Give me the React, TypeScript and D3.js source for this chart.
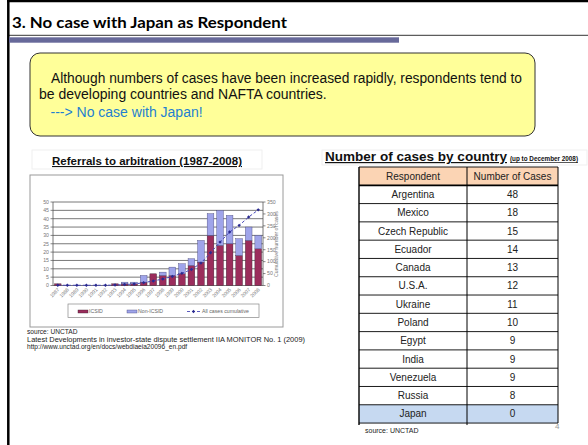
import React from "react";
import * as d3 from "d3";

const years = ["1987","1988","1989","1990","1991","1992","1993","1994","1995","1996","1997","1998","1999","2000","2001","2002","2003","2004","2005","2006","2007","2008"];
const icsid = [1,0,0,0,0,0,1,1,1,2,7,6,6,7,12,14,30,24,25,18,27,22];
const nonIcsid = [0,0,0,0,0,0,0,1,1,4,0,2,5,6,4,13,13,21,17,10,8,8];
const cumulative = [1,1,1,1,1,1,2,4,6,12,19,27,38,51,67,94,137,182,224,252,287,317];
const leftTicks = [0,5,10,15,20,25,30,35,40,45,50];
const rightTicks = [0,50,100,150,200,250,300,350];

const respondents = ["Argentina","Mexico","Czech Republic","Ecuador","Canada","U.S.A.","Ukraine","Poland","Egypt","India","Venezuela","Russia","Japan"];
const caseCounts = [48,18,15,14,13,12,11,10,9,9,9,8,0];

const SANS = "'Liberation Sans', Arial, sans-serif";

export default function App() {
  const x = d3.scaleBand<string>().domain(years).range([53, 263]).paddingInner(0.3).paddingOuter(0.15);
  const yL = d3.scaleLinear().domain([0, 50]).range([285.5, 202]);
  const yR = d3.scaleLinear().domain([0, 350]).range([285.5, 202]);
  const cx = (y: string) => (x(y) as number) + x.bandwidth() / 2;
  const line = d3.line<number>().x((_, i) => cx(years[i])).y((d) => yR(d));

  const tLeft = 359, tMid = 467, tRight = 558, tTop = 167, rowH = 18.29;
  const col1 = (tLeft + tMid) / 2, col2 = (tMid + tRight) / 2;

  return (
    <div style={{ position: "absolute", left: 0, top: 0 }}>
      <svg width={588} height={445} style={{ display: "block", background: "#fff" }}>
        {/* slide frame */}
        <rect x={0} y={0} width={588} height={445} fill="#fff" />
        <line x1={7} y1={1} x2={588} y2={1} stroke="#000" strokeWidth={2.5} />
        <line x1={8.3} y1={0} x2={8.3} y2={445} stroke="#000" strokeWidth={2.5} />
        <text x={12} y={28.3} fontFamily="Lato, 'Open Sans', sans-serif" fontWeight={700} fontSize={16} fill="#000" textLength={275} lengthAdjust="spacingAndGlyphs">3. No case with Japan as Respondent</text>
        <line x1={9} y1={35.3} x2={588} y2={35.3} stroke="#000" strokeWidth={0.8} />
        <rect x={9} y={37.3} width={390} height={5.4} fill="#67699a" />

        {/* yellow callout */}
        <rect x={30} y={53} width={505} height={83} rx={10} ry={10} fill="#ffff99" stroke="#333" strokeWidth={1} />
        <text fontFamily={SANS} fontSize={14} fill="#111">
          <tspan x={51} y={83.3} textLength={471} lengthAdjust="spacingAndGlyphs">Although numbers of cases have been increased rapidly, respondents tend to</tspan>
          <tspan x={39} y={99.3}>be developing countries and NAFTA countries.</tspan>
        </text>
        <text x={50.5} y={117.3} fontFamily={SANS} fontSize={14} fill="#1f7fd0">---&gt; No case with Japan!</text>

        {/* chart subtitle */}
        <rect x={32} y={150} width={230} height={19} fill="#fff" stroke="#ececec" strokeWidth={0.8} />
        <text x={147} y={165} textAnchor="middle" fontFamily={SANS} fontWeight={700} fontSize={11} fill="#111" textDecoration="underline" textLength={190} lengthAdjust="spacingAndGlyphs">Referrals to arbitration (1987-2008)</text>

        {/* chart box */}
        <rect x={30} y={175} width={253} height={152} fill="#fff" stroke="#9a9a9a" strokeWidth={1} />
        {leftTicks.map((t) => (
          <line key={"g" + t} x1={53} x2={263} y1={yL(t)} y2={yL(t)} stroke="#555" strokeWidth={0.8} />
        ))}
        <line x1={53} x2={53} y1={202} y2={285.5} stroke="#555" strokeWidth={0.8} />
        <line x1={263} x2={263} y1={202} y2={285.5} stroke="#555" strokeWidth={0.8} />
        {leftTicks.map((t) => (
          <g key={"l" + t}>
            <line x1={50.5} x2={53} y1={yL(t)} y2={yL(t)} stroke="#555" strokeWidth={0.7} />
            <text x={49} y={yL(t) + 1.8} textAnchor="end" fontFamily={SANS} fontSize={5.2} fill="#777">{t}</text>
          </g>
        ))}
        {rightTicks.map((t) => (
          <g key={"r" + t}>
            <line x1={263} x2={265.5} y1={yR(t)} y2={yR(t)} stroke="#555" strokeWidth={0.7} />
            <text x={267} y={yR(t) + 1.8} fontFamily={SANS} fontSize={5.2} fill="#777">{t}</text>
          </g>
        ))}
        <text transform="translate(278,244) rotate(-90)" textAnchor="middle" fontFamily={SANS} fontSize={5.2} fill="#777">Cumulative number of cases</text>

        {/* bars */}
        {years.map((yr, i) => (
          <g key={"b" + yr}>
            {icsid[i] > 0 && (
              <rect x={x(yr)} width={x.bandwidth()} y={yL(icsid[i])} height={yL(0) - yL(icsid[i])} fill="#9b2d5c" stroke="#3a2030" strokeWidth={0.4} />
            )}
            {nonIcsid[i] > 0 && (
              <rect x={x(yr)} width={x.bandwidth()} y={yL(icsid[i] + nonIcsid[i])} height={yL(icsid[i]) - yL(icsid[i] + nonIcsid[i])} fill="#9fa4ea" stroke="#44447a" strokeWidth={0.4} />
            )}
          </g>
        ))}
        <path d={line(cumulative) || ""} fill="none" stroke="#4848b8" strokeWidth={1} strokeDasharray="3,2" />
        {cumulative.map((v, i) => (
          <rect key={"m" + i} x={cx(years[i]) - 1.2} y={yR(v) - 1.2} width={2.4} height={2.4} fill="#2a2a90" transform={`rotate(45 ${cx(years[i])} ${yR(v)})`} />
        ))}
        {years.map((yr) => (
          <text key={"x" + yr} transform={`translate(${cx(yr) + 2},${290}) rotate(-45)`} textAnchor="end" fontFamily={SANS} fontSize={5} fill="#777">{yr}</text>
        ))}
        {/* legend */}
        <rect x={68} y={304} width={191} height={13.5} fill="#fff" stroke="#888" strokeWidth={0.7} />
        <rect x={78} y={310} width={10} height={3} fill="#9b2d5c" stroke="#3a2030" strokeWidth={0.4} />
        <text x={89} y={313} fontFamily={SANS} fontSize={5.2} fill="#666">ICSID</text>
        <rect x={127} y={310} width={10} height={3} fill="#9fa4ea" stroke="#44447a" strokeWidth={0.4} />
        <text x={138} y={313} fontFamily={SANS} fontSize={5.2} fill="#666">Non-ICSID</text>
        <line x1={187} x2={200} y1={311.5} y2={311.5} stroke="#4848b8" strokeWidth={0.9} strokeDasharray="3,2" />
        <rect x={192.3} y={310.3} width={2.4} height={2.4} fill="#2a2a90" transform="rotate(45 193.5 311.5)" />
        <text x={202} y={313} fontFamily={SANS} fontSize={5.2} fill="#666">All cases cumulative</text>

        {/* source under chart */}
        <text fontFamily={SANS} fontSize={6.6} fill="#222">
          <tspan x={27} y={334}>source: UNCTAD</tspan>
          <tspan x={27} y={341.7} textLength={278} lengthAdjust="spacingAndGlyphs">Latest Developments in investor-state dispute settlement IIA MONITOR No. 1 (2009)</tspan>
          <tspan x={27} y={349.4}>http://www.unctad.org/en/docs/webdiaeia20096_en.pdf</tspan>
        </text>

        {/* table title */}
        <rect x={322} y={150} width={265} height={15} fill="#fff" stroke="#ececec" strokeWidth={0.8} />
        <text x={325} y={161} fontFamily={SANS} fontWeight={700} fontSize={12} fill="#111" textDecoration="underline" textLength={182} lengthAdjust="spacingAndGlyphs">Number of cases by country</text>
        <text x={510} y={161} fontFamily={SANS} fontWeight={700} fontSize={7} fill="#111" textDecoration="underline" textLength={68} lengthAdjust="spacingAndGlyphs">(up to December 2008)</text>

        {/* table */}
        <rect x={tLeft} y={tTop} width={tRight - tLeft} height={rowH} fill="#fbd4b4" />
        {respondents.map((r, i) => (
          <rect key={"rf" + r} x={tLeft} y={tTop + rowH * (i + 1)} width={tRight - tLeft} height={rowH} fill={r === "Japan" ? "#c6d9f1" : "#fff"} />
        ))}
        {d3.range(respondents.length + 2).map((k) => (
          <line key={"h" + k} x1={tLeft} x2={tRight} y1={tTop + rowH * k} y2={tTop + rowH * k} stroke="#000" strokeWidth={k === 1 ? 1.8 : 0.9} />
        ))}
        <line x1={tLeft} x2={tLeft} y1={tTop} y2={tTop + rowH * 14 + 2} stroke="#000" strokeWidth={1.4} />
        <line x1={tMid} x2={tMid} y1={tTop} y2={tTop + rowH * 14 + 2} stroke="#000" strokeWidth={1} />
        <line x1={tRight} x2={tRight} y1={tTop} y2={tTop + rowH * 14} stroke="#000" strokeWidth={1} />
        <text x={col1} y={tTop + rowH / 2 + 3.5} textAnchor="middle" fontFamily={SANS} fontSize={10} fill="#222">Respondent</text>
        <text x={col2} y={tTop + rowH / 2 + 3.5} textAnchor="middle" fontFamily={SANS} fontSize={10} fill="#222">Number of Cases</text>
        {respondents.map((r, i) => (
          <g key={"rt" + r}>
            <text x={col1} y={tTop + rowH * (i + 1.5) + 3.5} textAnchor="middle" fontFamily={SANS} fontSize={10} fill="#222">{r}</text>
            <text x={col2} y={tTop + rowH * (i + 1.5) + 3.5} textAnchor="middle" fontFamily={SANS} fontSize={10} fill="#222">{caseCounts[i]}</text>
          </g>
        ))}
        <text x={365} y={433} fontFamily={SANS} fontSize={7} fill="#222">source: UNCTAD</text>
        <text x={555} y={429} fontFamily={SANS} fontSize={8} fill="#999">4</text>
      </svg>
    </div>
  );
}
